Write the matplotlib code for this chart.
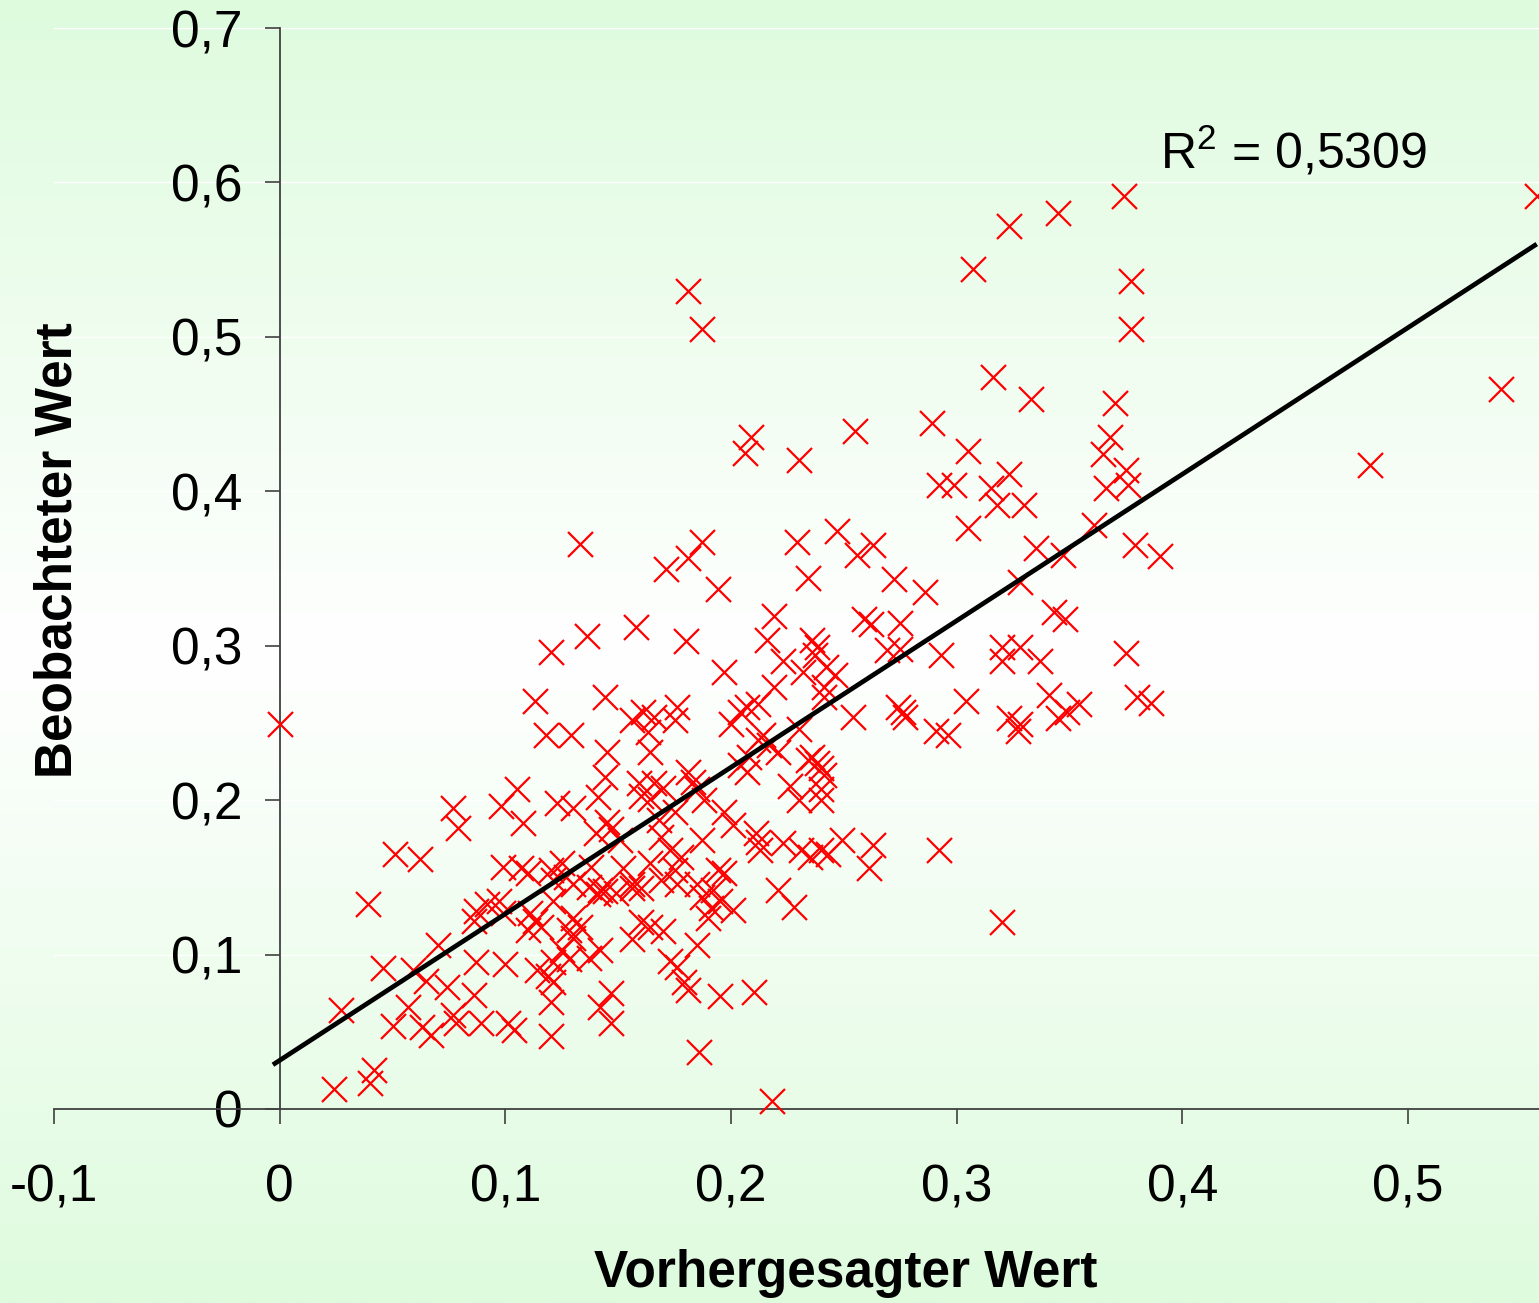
import numpy as np
import matplotlib
matplotlib.use("Agg")
import matplotlib.pyplot as plt
from matplotlib.ticker import FuncFormatter, MultipleLocator

plt.rcParams['font.family'] = ['Liberation Sans', 'DejaVu Sans']
plt.rcParams['mathtext.fontset'] = 'custom'
plt.rcParams['mathtext.rm'] = 'Liberation Sans'

# predicted vs observed values
pred = [
    0.557, 0.374, 0.345, 0.323, 0.307, 0.377, 0.181, 0.377, 0.187, 0.316,
    0.541, 0.333, 0.370, 0.289, 0.255, 0.209, 0.368, 0.206, 0.305, 0.230,
    0.365, 0.483, 0.375, 0.323, 0.292, 0.299, 0.315, 0.366, 0.376, 0.318,
    0.330, 0.305, 0.361, 0.247, 0.133, 0.187, 0.229, 0.263, 0.379, 0.256,
    0.335, 0.347, 0.390, 0.181, 0.171, 0.234, 0.272, 0.328, 0.194, 0.286,
    0.219, 0.259, 0.262, 0.275, 0.343, 0.348, 0.158, 0.136, 0.180, 0.216,
    0.236, 0.238, 0.237, 0.269, 0.275, 0.293, 0.120, 0.320, 0.328, 0.320,
    0.337, 0.375, 0.197, 0.223, 0.232, 0.242, 0.246, 0.219, 0.241, 0.241,
    0.113, 0.144, 0.304, 0.341, 0.354, 0.380, 0.386, 0.212, 0.207, 0.254,
    0.274, 0.276, 0.277, 0.323, 0.328, 0.327, 0.345, 0.349, 0.156, 0.161,
    0.166, 0.163, 0.176, 0.175, 0.200, 0.204, 0.230, 0.291, 0.296, 0.118,
    0.129, 0.000, 0.214, 0.212, 0.217, 0.221, 0.145, 0.164, 0.208, 0.236,
    0.238, 0.234, 0.240, 0.241, 0.207, 0.204, 0.181, 0.144, 0.141, 0.159,
    0.166, 0.170, 0.160, 0.164, 0.185, 0.188, 0.183, 0.197, 0.226, 0.230,
    0.240, 0.240, 0.201, 0.211, 0.212, 0.213, 0.187, 0.223, 0.231, 0.240,
    0.249, 0.263, 0.261, 0.292, 0.235, 0.194, 0.197, 0.077, 0.079, 0.105,
    0.098, 0.108, 0.123, 0.130, 0.140, 0.147, 0.151, 0.145, 0.168, 0.169,
    0.175, 0.173, 0.178, 0.175, 0.125, 0.120, 0.127, 0.138, 0.137, 0.152,
    0.156, 0.164, 0.169, 0.192, 0.185, 0.176, 0.142, 0.149, 0.051, 0.062,
    0.099, 0.107, 0.110, 0.121, 0.130, 0.092, 0.097, 0.087, 0.086, 0.099,
    0.111, 0.113, 0.110, 0.116, 0.121, 0.128, 0.130, 0.039, 0.070, 0.046,
    0.059, 0.027, 0.065, 0.074, 0.057, 0.050, 0.063, 0.067, 0.077, 0.078,
    0.086, 0.089, 0.101, 0.104, 0.087, 0.100, 0.114, 0.120, 0.120, 0.042,
    0.040, 0.024, 0.119, 0.121, 0.221, 0.228, 0.195, 0.210, 0.186, 0.218,
    0.179, 0.181, 0.176, 0.173, 0.185, 0.170, 0.156, 0.160, 0.147, 0.147,
    0.142, 0.130, 0.125, 0.128, 0.137, 0.142, 0.133, 0.121, 0.141, 0.144,
    0.156, 0.160, 0.187, 0.191, 0.190, 0.201, 0.195, 0.164, 0.243, 0.320,
]
obs = [
    0.591, 0.591, 0.580, 0.572, 0.544, 0.536, 0.530, 0.505, 0.505, 0.474,
    0.466, 0.460, 0.457, 0.444, 0.439, 0.435, 0.435, 0.425, 0.426, 0.420,
    0.424, 0.417, 0.414, 0.411, 0.404, 0.404, 0.402, 0.402, 0.404, 0.391,
    0.391, 0.376, 0.378, 0.374, 0.366, 0.367, 0.367, 0.365, 0.365, 0.359,
    0.363, 0.359, 0.358, 0.357, 0.350, 0.344, 0.343, 0.341, 0.337, 0.335,
    0.319, 0.317, 0.314, 0.315, 0.322, 0.317, 0.312, 0.306, 0.303, 0.304,
    0.304, 0.299, 0.294, 0.297, 0.298, 0.294, 0.296, 0.299, 0.299, 0.290,
    0.290, 0.295, 0.283, 0.290, 0.283, 0.286, 0.281, 0.273, 0.273, 0.267,
    0.264, 0.267, 0.264, 0.268, 0.262, 0.267, 0.263, 0.262, 0.260, 0.254,
    0.260, 0.257, 0.254, 0.253, 0.249, 0.245, 0.253, 0.257, 0.252, 0.257,
    0.254, 0.244, 0.260, 0.252, 0.249, 0.257, 0.246, 0.245, 0.242, 0.242,
    0.242, 0.249, 0.242, 0.239, 0.236, 0.231, 0.231, 0.231, 0.228, 0.228,
    0.224, 0.226, 0.221, 0.216, 0.218, 0.223, 0.218, 0.215, 0.202, 0.211,
    0.211, 0.208, 0.203, 0.201, 0.207, 0.200, 0.212, 0.192, 0.209, 0.200,
    0.207, 0.200, 0.184, 0.179, 0.173, 0.168, 0.174, 0.172, 0.168, 0.168,
    0.174, 0.171, 0.156, 0.168, 0.163, 0.155, 0.153, 0.195, 0.182, 0.207,
    0.196, 0.185, 0.198, 0.195, 0.179, 0.181, 0.174, 0.186, 0.187, 0.176,
    0.192, 0.168, 0.163, 0.155, 0.159, 0.155, 0.150, 0.157, 0.144, 0.156,
    0.146, 0.159, 0.148, 0.142, 0.146, 0.146, 0.142, 0.140, 0.165, 0.162,
    0.157, 0.156, 0.153, 0.148, 0.146, 0.133, 0.135, 0.128, 0.122, 0.127,
    0.127, 0.122, 0.116, 0.118, 0.135, 0.116, 0.124, 0.133, 0.106, 0.091,
    0.090, 0.064, 0.083, 0.079, 0.066, 0.054, 0.053, 0.048, 0.061, 0.056,
    0.074, 0.056, 0.056, 0.051, 0.095, 0.094, 0.090, 0.047, 0.069, 0.025,
    0.017, 0.013, 0.086, 0.095, 0.142, 0.131, 0.073, 0.076, 0.037, 0.005,
    0.082, 0.077, 0.092, 0.096, 0.106, 0.115, 0.110, 0.121, 0.075, 0.056,
    0.066, 0.111, 0.103, 0.097, 0.098, 0.103, 0.118, 0.082, 0.139, 0.141,
    0.143, 0.143, 0.137, 0.130, 0.124, 0.129, 0.135, 0.118, 0.165, 0.121,
]
# linear trend line (Excel) and its R²
trend_slope = 0.949
trend_intercept = 0.0315
r2_text = r"R$^2$ = 0,5309"

pred = np.array(pred)
obs = np.array(obs)

W, H = 1539, 1303
fig = plt.figure(figsize=(W / 100, H / 100), dpi=100)

# green -> white -> green background
t = np.abs(np.linspace(-1, 1, 600))[:, None]
edge = np.array([222, 251, 222]) / 255
grad = (1 - t)[..., None] * np.ones(3) + t[..., None] * edge
bg = fig.add_axes([0, 0, 1, 1], zorder=-10)
bg.imshow(grad, aspect='auto', extent=[0, 1, 0, 1])
bg.axis('off')

ax = fig.add_axes([54 / W, 1 - 1109 / H, (W - 54) / W, (1109 - 28) / H])
ax.patch.set_alpha(0)
ax.set_xlim(-0.1, 0.558)
ax.set_ylim(0, 0.7)

ax.scatter(pred, obs, marker='x', s=18 ** 2, color='#ff0000',
           linewidths=1.6, zorder=3, clip_on=False)
xs = np.array([pred.min() - 0.003, pred.max()])
ax.plot(xs, trend_intercept + trend_slope * xs, color='black', lw=3.4,
        zorder=4, solid_capstyle='butt')

ax.text(0.390, 0.62, r2_text, fontsize=36, va='center', ha='left')

for side in ['top', 'right']:
    ax.spines[side].set_visible(False)
ax.spines['left'].set_position(('data', 0))
for side in ['left', 'bottom']:
    ax.spines[side].set_color('#404040')
    ax.spines[side].set_linewidth(1.3)

ax.xaxis.set_major_locator(MultipleLocator(0.1))
ax.yaxis.set_major_locator(MultipleLocator(0.1))
fmt = FuncFormatter(lambda v, p: '0' if abs(v) < 1e-9 else ('%.1f' % v).replace('.', ','))
ax.xaxis.set_major_formatter(fmt)
ax.yaxis.set_major_formatter(fmt)
ax.tick_params(axis='both', direction='out', length=11, width=1.2,
               color='#404040', labelsize=37)
ax.tick_params(axis='x', pad=28)
ax.tick_params(axis='y', pad=16)

ax.yaxis.grid(True, color='white', lw=1)
ax.set_axisbelow(True)

fig.text(846 / W, 1 - 1274 / H, 'Vorhergesagter Wert', fontsize=37,
         fontweight='bold', ha='center', va='center')
fig.text(58 / W, 1 - 550 / H, 'Beobachteter Wert', fontsize=37,
         fontweight='bold', ha='center', va='center', rotation=90)

fig.savefig('out.png', dpi=100)
